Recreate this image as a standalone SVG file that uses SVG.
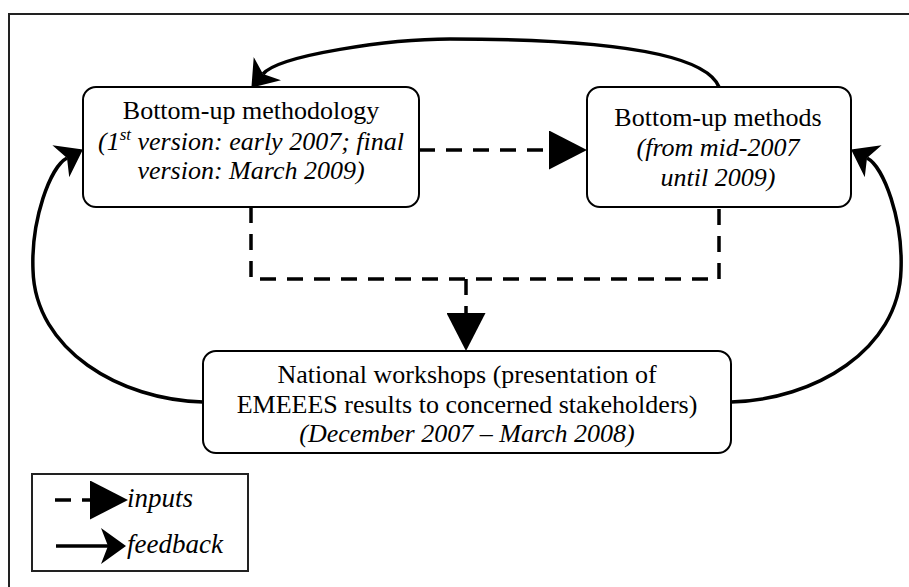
<svg xmlns="http://www.w3.org/2000/svg" width="909" height="587" viewBox="0 0 909 587">
<style>
  .box { fill: #fff; stroke: #000; stroke-width: 2; }
  .t { font-family: 'Liberation Serif', 'Times New Roman', serif; font-size: 26px; fill: #000; text-anchor: middle; }
  .i { font-style: italic; }
  .dash { fill: none; stroke: #000; stroke-width: 3.5; stroke-dasharray: 16 11; }
  .fb { fill: none; stroke: #000; stroke-width: 3.5; }
  .lg { font-family: 'Liberation Serif', 'Times New Roman', serif; font-size: 27px; font-style: italic; fill: #000; }
</style>
<defs>
  <marker id="tri" markerUnits="userSpaceOnUse" viewBox="0 0 38 39" refX="0" refY="19.5" markerWidth="38" markerHeight="39" orient="auto">
    <path d="M0,0 L38,19.5 L0,39 Z" fill="#000"/>
  </marker>
  <marker id="stealth" markerUnits="userSpaceOnUse" viewBox="0 0 25 36" refX="7" refY="18" markerWidth="25" markerHeight="36" orient="auto">
    <path d="M25,18 L0,0 L7,18 L0,36 Z" fill="#000"/>
  </marker>
</defs>
<rect x="9" y="14" width="930" height="600" fill="none" stroke="#222" stroke-width="2"/>

<g id="connectors">
  <path class="dash" d="M419,150 L549,150" marker-end="url(#tri)"/>
  <path class="dash" d="M251,207 V279 H719 V207"/>
  <path class="dash" d="M466,279 V313" marker-end="url(#tri)"/>
  <path class="fb" d="M719,87 C705,52 600,39 450,39 C390,39 279,55 263,74" marker-end="url(#stealth)"/>
  <path class="fb" d="M203,402 C120,400 35,350 33,270 C31,220 50,167 67,158" marker-end="url(#stealth)"/>
  <path class="fb" d="M731,402 C814,400 899,350 901,270 C903,220 884,167 867,158" marker-end="url(#stealth)"/>
</g>

<g id="methodology">
  <rect class="box" x="83" y="87" width="336" height="120" rx="13"/>
  <text class="t" x="251" y="119" font-family="DejaVu Serif">Bottom-up methodology</text>
  <text class="t i" x="251" y="150">(1<tspan font-size="17" dy="-10">st</tspan><tspan dy="10"> version: early 2007; final</tspan></text>
  <text class="t i" x="251" y="179">version: March 2009)</text>
</g>

<g id="methods">
  <rect class="box" x="587" y="87" width="264" height="120" rx="13"/>
  <text class="t" x="718" y="126">Bottom-up methods</text>
  <text class="t i" x="718" y="156">(from mid-2007</text>
  <text class="t i" x="718" y="186">until 2009)</text>
</g>

<g id="workshops">
  <rect class="box" x="203" y="351" width="528" height="102" rx="13"/>
  <text class="t" x="467" y="383">National workshops (presentation of</text>
  <text class="t" x="467" y="413">EMEEES results to concerned stakeholders)</text>
  <text class="t i" x="467" y="442">(December 2007 – March 2008)</text>
</g>

<g id="legend">
  <rect x="32" y="474" width="216" height="97" fill="#fff" stroke="#222" stroke-width="2"/>
  <path class="dash" d="M55,500 L90,500" stroke-dasharray="12 15" marker-end="url(#tri)"/>
  <text class="lg" x="127" y="507">inputs</text>
  <path class="fb" d="M56,546 L108,546" marker-end="url(#stealth)"/>
  <text class="lg" x="127" y="553">feedback</text>
</g>
</svg>
